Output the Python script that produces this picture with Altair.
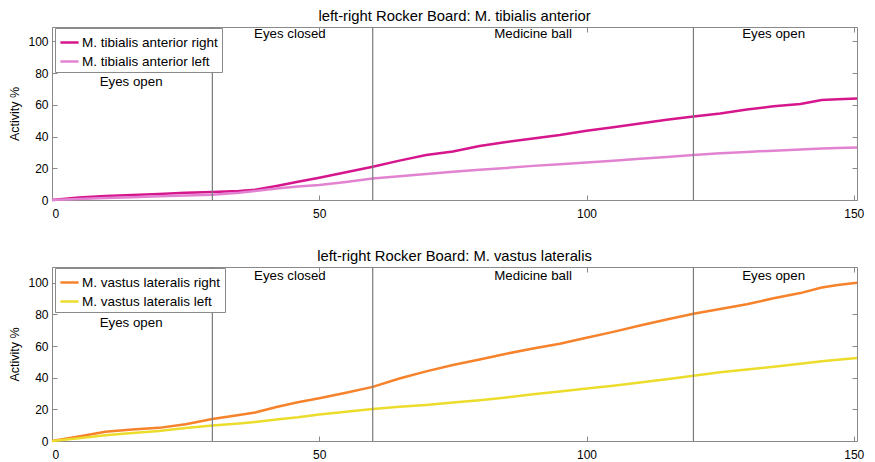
import altair as alt
import pandas as pd

# time axis samples (s)
t = [0, 5, 10, 15, 20, 25, 30, 35, 38, 42, 46, 50, 55, 60, 65, 70, 75, 80, 85,
     90, 95, 100, 105, 110, 115, 120, 125, 130, 135, 140, 144, 147, 150.6]

ta_right = [0, 1.5, 2.5, 3.2, 3.8, 4.5, 5.1, 5.6, 6.4, 8.8, 11.5, 14, 17.5, 21,
            24.8, 28.3, 30.5, 34, 36.5, 38.8, 41, 43.6, 45.8, 48.2, 50.5, 52.6,
            54.5, 57, 59, 60.5, 63, 63.5, 64]
ta_left = [0, 0.7, 1.3, 1.8, 2.3, 2.8, 3.3, 4.5, 5.7, 7.3, 8.5, 9.4, 11.4, 13.6,
           15, 16.4, 17.8, 19, 20.2, 21.5, 22.6, 23.7, 24.8, 26, 27.1, 28.3,
           29.5, 30.3, 31.1, 31.8, 32.4, 32.8, 33.1]
vl_right = [0, 2.8, 5.8, 7.2, 8.3, 10.6, 13.9, 16.5, 18, 21.5, 24.5, 27, 30.5,
            34.2, 39.5, 44, 48, 51.5, 55.2, 58.5, 61.5, 65.3, 69, 73, 76.8, 80.5,
            83.5, 86.5, 90.2, 93.5, 97, 98.6, 100]
vl_left = [0, 1.8, 3.6, 5.1, 6.3, 8.2, 9.8, 11, 12, 13.6, 15, 16.8, 18.5, 20.2,
           21.6, 22.8, 24.3, 25.8, 27.5, 29.5, 31.3, 33.2, 35, 37, 39, 41.2, 43.5,
           45.2, 47, 48.8, 50.4, 51.3, 52.5]

phase_bounds = [30, 60, 120]
phase_labels = ["Eyes open", "Eyes closed", "Medicine ball", "Eyes open"]
phase_label_t = [14.8, 44.5, 90, 135]
phase_label_v = [74.4, 104.4, 104.4, 104.4]

x_ticks = [0, 50, 100, 150]
y_ticks = [0, 20, 40, 60, 80, 100]

GRAY = "#8a8a8a"


def panel(title, names, series, colors, ymax, height):
    rows = []
    for name, vals in zip(names, series):
        for tt, vv in zip(t, vals):
            rows.append({"t": tt, "v": vv, "series": name})
    df = pd.DataFrame(rows)
    xs = alt.Scale(domain=[0, 150.6], nice=False, zero=False)
    ys = alt.Scale(domain=[0, ymax], nice=False)

    lines = alt.Chart(df).mark_line(strokeWidth=2.5).encode(
        x=alt.X("t:Q", scale=xs,
                axis=alt.Axis(values=x_ticks, title=None, orient="bottom",
                              labelPadding=8)),
        y=alt.Y("v:Q", scale=ys,
                axis=alt.Axis(values=y_ticks, title="Activity %", orient="left",
                              labelPadding=4, titlePadding=6)),
        color=alt.Color("series:N",
                        scale=alt.Scale(domain=names, range=colors),
                        legend=alt.Legend(title=None, orient="none",
                                          legendX=3, legendY=1,
                                          strokeColor=GRAY, fillColor="white",
                                          padding=4, symbolType="stroke",
                                          symbolStrokeWidth=2.5, symbolSize=330,
                                          labelFontSize=13.5, labelColor="black",
                                          rowPadding=2, labelOffset=2,
                                          cornerRadius=0)),
    )
    rules = alt.Chart(pd.DataFrame({"t": phase_bounds})).mark_rule(
        color="#7a7a7a", strokeWidth=1.2).encode(
        x=alt.X("t:Q", scale=xs,
                axis=alt.Axis(values=x_ticks, title=None, orient="top",
                              labels=False)),
    )
    texts = alt.Chart(pd.DataFrame({"t": phase_label_t, "v": phase_label_v,
                                    "label": phase_labels})).mark_text(
        fontSize=13.3, color="black", baseline="middle", align="center").encode(
        x=alt.X("t:Q", scale=xs, axis=None),
        y=alt.Y("v:Q", scale=ys,
                axis=alt.Axis(values=y_ticks, title=None, orient="right",
                              labels=False)),
        text="label:N",
    )
    return alt.layer(lines, rules, texts).resolve_axis(
        x="independent", y="independent").properties(
        width=805, height=height,
        title=alt.TitleParams(title, fontSize=14.8, fontWeight="normal",
                              offset=3, color="black"))


top = panel("left-right Rocker Board: M. tibialis anterior",
            ["M. tibialis anterior right", "M. tibialis anterior left"],
            [ta_right, ta_left], ["#d6168c", "#e283d2"], 109, 173)
bottom = panel("left-right Rocker Board: M. vastus lateralis",
               ["M. vastus lateralis right", "M. vastus lateralis left"],
               [vl_right, vl_left], ["#f6822b", "#ecdc2c"], 110, 174)

chart = alt.vconcat(top, bottom, spacing=28).resolve_scale(
    color="independent").properties(padding=0).configure(
    font="Liberation Sans").configure_view(stroke=GRAY, strokeWidth=1).configure_axis(
    tickSize=5, offset=-5, domain=False, grid=False, labelFontSize=12,
    labelColor="black", tickColor=GRAY, titleFontSize=12.5,
    titleFontWeight="normal", titleColor="black")

chart.save("out.html", embed_options={"renderer": "svg", "actions": False})
